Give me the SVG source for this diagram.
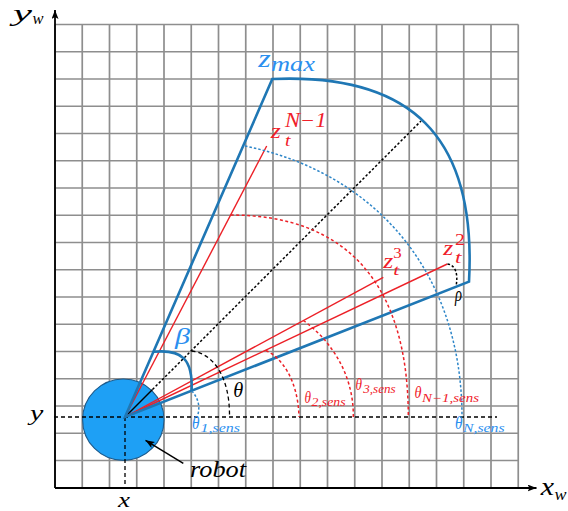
<svg xmlns="http://www.w3.org/2000/svg" width="568" height="511" viewBox="0 0 568 511">
<defs>
<style>
.grid{stroke:#8e8e8e;stroke-width:1.7;fill:none}
.axis{stroke:#000;stroke-width:1.8;fill:none}
.fov{stroke:#1f77b4;stroke-width:2.6;fill:none;stroke-linejoin:miter}
.ray{stroke:#ec2027;stroke-width:1.4;fill:none}
.solid-k{stroke:#000;stroke-width:1.4;fill:none}
.dash-k{stroke:#000;stroke-width:1.3;stroke-dasharray:4 3;fill:none}
.dot-k{stroke:#000;stroke-width:1.5;stroke-dasharray:2.5 2;fill:none}
.dash-r{stroke:#ec2027;stroke-width:1.5;stroke-dasharray:3 2.5;fill:none}
.dash-b{stroke:#2e86c8;stroke-width:1.5;stroke-dasharray:2.5 2;fill:none}
.t{font-family:'Liberation Serif','DejaVu Serif','Times New Roman',serif;font-style:italic}
.lb{fill:#000}
.lblue{fill:#2b8fef}
.lred{fill:#f0202a}
.up{font-style:normal}
</style>
<marker id="axarr" markerWidth="10" markerHeight="8" refX="9" refY="3.5" orient="auto" markerUnits="userSpaceOnUse">
<path d="M0,0 L9,3.5 L0,7 L2,3.5 Z" fill="#000"/>
</marker>
<marker id="ah" markerWidth="10" markerHeight="8" refX="9" refY="3.5" orient="auto" markerUnits="userSpaceOnUse">
<path d="M0,0 L9,3.5 L0,7 L2,3.5 Z" fill="#000"/>
</marker>
</defs>
<rect width="568" height="511" fill="#fff"/>

<g id="grid">
<path class="grid" d="M55,24.5V487.75M82.25,24.5V487.75M109.5,24.5V487.75M136.75,24.5V487.75M164,24.5V487.75M191.25,24.5V487.75M218.5,24.5V487.75M245.75,24.5V487.75M273,24.5V487.75M300.25,24.5V487.75M327.5,24.5V487.75M354.75,24.5V487.75M382,24.5V487.75M409.25,24.5V487.75M436.5,24.5V487.75M463.75,24.5V487.75M491,24.5V487.75M518.25,24.5V487.75
M55,24.5H518.25M55,51.75H518.25M55,79H518.25M55,106.25H518.25M55,133.5H518.25M55,160.75H518.25M55,188H518.25M55,215.25H518.25M55,242.5H518.25M55,269.75H518.25M55,297H518.25M55,324.25H518.25M55,351.5H518.25M55,378.75H518.25M55,406H518.25M55,433.25H518.25M55,460.5H518.25M55,487.75H518.25"/>
</g>

<g id="axes">
<path class="axis" d="M55,488 L55,10" marker-end="url(#axarr)"/>
<path class="axis" d="M55,488 L536.5,488" marker-end="url(#axarr)"/>
</g>

<g id="robot">
<circle cx="123.3" cy="419.7" r="40.7" fill="#1ea0f5" stroke="#1b5a8c" stroke-width="1.1"/>
</g>

<g id="connectors">
<path class="dash-k" d="M54,417 H497"/>
<path class="dash-k" d="M125,417 V488"/>
<path class="solid-k" d="M125,417 L152.5,389.5"/>
<path class="dot-k" d="M152.5,389.5 L421,121"/>
<path class="ray" d="M125,417 L266.7,146"/>
<path class="ray" d="M125,417 L383.3,277.3"/>
<path class="ray" d="M125,417 L447.3,264"/>
<path class="fov" d="M125,417 L272.3,79 C410,73 477,135 469,281.7 Z"/>
<path class="fov" d="M153.4,351.8 C182,349 193,359 191.6,390.8"/>
<path class="dash-b" d="M191.6,391 C199,398 200.5,409 197,417"/>
<path class="dash-k" d="M191.5,351 C212,353 230,375 229.5,417"/>
<path class="dot-k" d="M447.5,264 C455,265 458.5,273 456,286.5"/>
<path class="dash-r" d="M266,350.5 C282,358 298,380 299,417"/>
<path class="dash-r" d="M303.3,320.5 C328,338 354,372 353.3,417"/>
<path class="dash-r" d="M230.6,215 C348.7,215 408.3,286 408.3,417"/>
<path class="dash-b" d="M245,146 C376,173 462,273 462,417"/>
<path stroke="#000" stroke-width="1.5" fill="none" d="M183.3,463.3 L145.5,440.3" marker-end="url(#ah)"/>
</g>

<g id="labels">
<text class="t lb"><tspan x="13" y="20.5" font-size="23" textLength="19" lengthAdjust="spacingAndGlyphs">y</tspan><tspan x="32.5" y="23.5" font-size="16" textLength="11" lengthAdjust="spacingAndGlyphs">w</tspan></text>
<text class="t lb"><tspan x="540.7" y="495" font-size="26" textLength="13.3" lengthAdjust="spacingAndGlyphs">x</tspan><tspan x="554.5" y="500" font-size="16" textLength="12" lengthAdjust="spacingAndGlyphs">w</tspan></text>
<text class="t lb" x="30" y="420" font-size="22" textLength="13.3" lengthAdjust="spacingAndGlyphs">y</text>
<text class="t lb" x="118" y="506.5" font-size="21" textLength="12" lengthAdjust="spacingAndGlyphs">x</text>
<text class="t lb" x="190" y="476.5" font-size="24" textLength="56" lengthAdjust="spacingAndGlyphs">robot</text>
<text class="t lblue" x="175" y="344" font-size="23" textLength="15" lengthAdjust="spacingAndGlyphs">β</text>
<text class="t lb" x="233.3" y="396.5" font-size="21" textLength="10" lengthAdjust="spacingAndGlyphs">θ</text>
<text class="t lb" x="455" y="300.5" font-size="20" textLength="7" lengthAdjust="spacingAndGlyphs">ρ</text>
<text class="t lblue"><tspan x="192" y="428.5" font-size="19" textLength="7.5" lengthAdjust="spacingAndGlyphs">θ</tspan><tspan x="200.5" y="431.5" font-size="13" textLength="39.5" lengthAdjust="spacingAndGlyphs">1,sens</tspan></text>
<text class="t lred"><tspan x="304.5" y="403.3" font-size="17" textLength="6.5" lengthAdjust="spacingAndGlyphs">θ</tspan><tspan x="311.5" y="406" font-size="12" textLength="34" lengthAdjust="spacingAndGlyphs">2,sens</tspan></text>
<text class="t lred"><tspan x="355.5" y="390.3" font-size="17" textLength="6.5" lengthAdjust="spacingAndGlyphs">θ</tspan><tspan x="363.3" y="393" font-size="12" textLength="32.4" lengthAdjust="spacingAndGlyphs">3,sens</tspan></text>
<text class="t lred"><tspan x="414.5" y="398.3" font-size="17" textLength="7" lengthAdjust="spacingAndGlyphs">θ</tspan><tspan x="422" y="401.5" font-size="12" textLength="57" lengthAdjust="spacingAndGlyphs">N−1,sens</tspan></text>
<text class="t lblue"><tspan x="455" y="428.5" font-size="18" textLength="7.5" lengthAdjust="spacingAndGlyphs">θ</tspan><tspan x="463" y="431.5" font-size="13" textLength="41.5" lengthAdjust="spacingAndGlyphs">N,sens</tspan></text>
<text class="t lblue"><tspan x="258.3" y="66.7" font-size="26" textLength="12.4" lengthAdjust="spacingAndGlyphs">z</tspan><tspan x="271" y="70.7" font-size="20" textLength="44" lengthAdjust="spacingAndGlyphs">max</tspan></text>
<text class="t lred"><tspan x="270.7" y="138.3" font-size="22" textLength="10" lengthAdjust="spacingAndGlyphs">z</tspan><tspan x="285" y="127.3" font-size="20" textLength="41.7" lengthAdjust="spacingAndGlyphs">N−1</tspan><tspan x="285" y="146" font-size="17" textLength="5.5" lengthAdjust="spacingAndGlyphs">t</tspan></text>
<text class="t lred"><tspan x="383.3" y="268.3" font-size="20" textLength="10" lengthAdjust="spacingAndGlyphs">z</tspan><tspan class="up" x="393.3" y="258.3" font-size="15" textLength="8.4" lengthAdjust="spacingAndGlyphs">3</tspan><tspan x="393.3" y="275" font-size="15" textLength="6" lengthAdjust="spacingAndGlyphs">t</tspan></text>
<text class="t lred"><tspan x="443.3" y="255" font-size="20" textLength="10" lengthAdjust="spacingAndGlyphs">z</tspan><tspan class="up" x="455" y="245" font-size="16" textLength="10" lengthAdjust="spacingAndGlyphs">2</tspan><tspan x="455" y="262.7" font-size="16" textLength="6.5" lengthAdjust="spacingAndGlyphs">t</tspan></text>
</g>
</svg>
